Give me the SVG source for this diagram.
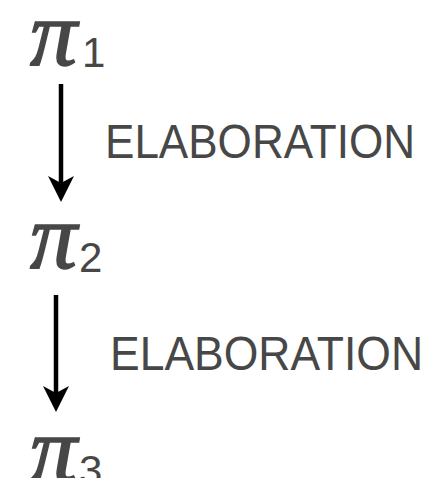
<svg xmlns="http://www.w3.org/2000/svg" width="430" height="478" viewBox="0 0 430 478">
<style>
.pi{font-family:"Liberation Serif","DejaVu Serif",serif;font-style:italic;font-size:94px;fill:#474747;stroke:#474747;stroke-width:1.6}
.sub{font-family:"Liberation Sans",Arial,sans-serif;font-size:42px;fill:#474747}
.lbl{font-family:"Liberation Sans",Arial,sans-serif;font-size:48px;fill:#474747}
.edge{stroke:#000;stroke-width:4.5;fill:none}
</style>
<defs>
<marker id="ah" markerUnits="userSpaceOnUse" markerWidth="28" markerHeight="28" refX="14" refY="13" orient="auto" viewBox="0 0 28 28">
<path d="M0,0 L26,13 L0,26 L7,13 z" fill="#000"/>
</marker>
</defs>
<rect width="430" height="478" fill="#fff"/>
<g id="pi1"><text class="pi" x="30" y="65">π</text><text class="sub" x="82" y="67">1</text></g>
<g id="pi2"><text class="pi" x="30" y="268">π</text><text class="sub" x="79" y="272">2</text></g>
<g id="pi3"><text class="pi" x="30" y="481">π</text><text class="sub" x="79" y="485">3</text></g>
<g id="connectors">
<line class="edge" x1="61" y1="84" x2="61" y2="190" marker-end="url(#ah)"/>
<text class="lbl" x="105" y="158" textLength="310" lengthAdjust="spacingAndGlyphs">ELABORATION</text>
<line class="edge" x1="56" y1="295" x2="56" y2="400" marker-end="url(#ah)"/>
<text class="lbl" x="110" y="370" textLength="313" lengthAdjust="spacingAndGlyphs">ELABORATION</text>
</g>
</svg>
